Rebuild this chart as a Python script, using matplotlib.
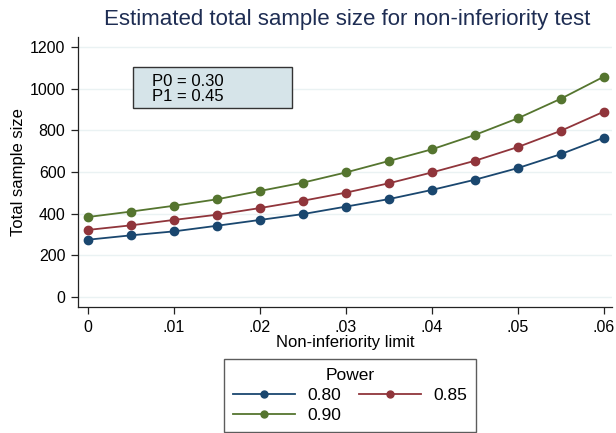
#!/usr/bin/env python3
"""Estimated total sample size for a non-inferiority test, by power."""

import matplotlib as mpl
import matplotlib.pyplot as plt
from matplotlib.lines import Line2D
from matplotlib.patches import Rectangle

LIMITS = [0.0, 0.005, 0.01, 0.015, 0.02, 0.025, 0.03, 0.035, 0.04, 0.045, 0.05, 0.055, 0.06]
N_080 = [275, 296, 315, 342, 370, 398, 434, 470, 514, 563, 619, 686, 765]
N_085 = [322, 344, 370, 395, 427, 462, 501, 546, 598, 654, 720, 798, 890]
N_090 = [384, 410, 438, 469, 509, 549, 598, 653, 709, 778, 858, 952, 1058]
POWER_LABELS = ["0.80", "0.85", "0.90"]
X_TICKS = [0, 0.01, 0.02, 0.03, 0.04, 0.05, 0.06]
X_TICK_LABELS = ["0", ".01", ".02", ".03", ".04", ".05", ".06"]
Y_TICKS = [0, 200, 400, 600, 800, 1000, 1200]
PARAM_TEXT = "P0 = 0.30\nP1 = 0.45"

COLORS = ["#1a476f", "#90353b", "#55752f"]

mpl.rcParams.update({
    "font.family": ["Liberation Sans", "DejaVu Sans"],
    "font.size": 12,
})

W, H = 616, 433
fig = plt.figure(figsize=(W / 100, H / 100), dpi=100)
fig.patch.set_facecolor("white")

# axes box in pixels: left 78, right 612, top 37, bottom 307
ax = fig.add_axes([78 / W, 1 - 307 / H, (612 - 78) / W, (307 - 37) / H])
for ys, c, lab in zip([N_080, N_085, N_090], COLORS, POWER_LABELS):
    ax.plot(LIMITS, ys, color=c, linewidth=1.3, marker="o", markersize=6,
            label=lab, zorder=3)

ax.set_xlim(-0.00116, 0.06093)
ax.set_ylim(-48, 1248)
ax.set_xticks(X_TICKS, X_TICK_LABELS)
ax.set_yticks(Y_TICKS)
ax.tick_params(direction="out", length=5, width=0.9, color="#222222", labelsize=11.5, pad=4)
ax.grid(True, axis="y", color="#eaf2f3", linewidth=1.0, zorder=0)
for side in ["top", "right"]:
    ax.spines[side].set_visible(False)
for side in ["left", "bottom"]:
    ax.spines[side].set_color("#222222")
    ax.spines[side].set_linewidth(0.9)

ax.set_xlabel("Non-inferiority limit", fontsize=12, labelpad=0)
ax.set_ylabel("Total sample size", fontsize=12, labelpad=3)
fig.text(347 / W, 1 - 20 / H, "Estimated total sample size for non-inferiority test",
         ha="center", va="center", fontsize=16, color="#1e2d53")

# parameter box (pixels: x 133-292, y 67-108)
fig.add_artist(Rectangle((133 / W, 1 - 108 / H), (292 - 133) / W, (108 - 67) / H,
                         transform=fig.transFigure, facecolor="#d6e4e9",
                         edgecolor="#333333", linewidth=1.0, zorder=5))
fig.text(152 / W, 1 - 89 / H, PARAM_TEXT, fontsize=12, ha="left", va="center",
         linespacing=0.95, zorder=6)

# legend, row-major order like the reference
handles = [Line2D([0], [0], color=c, linewidth=1.3, marker="o", markersize=5) for c in COLORS]
order = [0, 2, 1]
leg = fig.legend([handles[i] for i in order], [POWER_LABELS[i] for i in order],
                 title="Power", ncol=2, loc="upper left",
                 bbox_to_anchor=(224 / W, 1 - 359 / H), frameon=True, fancybox=False,
                 fontsize=12.5, title_fontsize=12.5, handlelength=3.6, handletextpad=0.7,
                 columnspacing=1.0, borderpad=0.5, labelspacing=0.3, borderaxespad=0)
leg.get_frame().set_edgecolor("#333333")
leg.get_frame().set_linewidth(1.0)

fig.savefig("out.png", dpi=100)
